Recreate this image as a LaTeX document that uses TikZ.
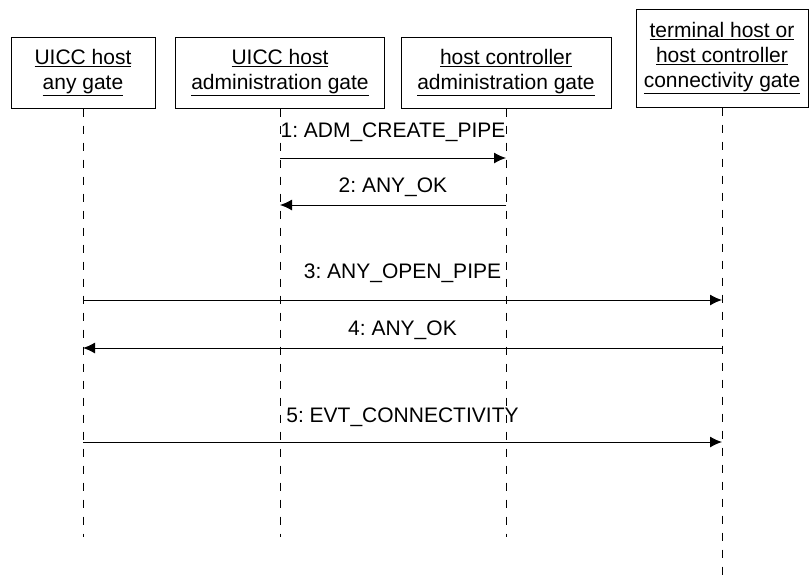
\documentclass[tikz,border=0pt]{standalone}
\usepackage{fontspec}
\setmainfont{Liberation Sans}
\usepackage{tikz}
\usetikzlibrary{positioning, arrows.meta}
\frenchspacing
\tikzstyle{gate} = [rectangle, draw=black, line width=1pt, align=center, inner sep=0pt, font=\fontsize{21}{25}\selectfont]
\tikzstyle{lifeline} = [line width=0.9pt, dash pattern=on 8pt off 9pt]
\tikzstyle{msg} = [line width=1pt, -{Latex[length=12pt,width=11pt]}]
\tikzstyle{msglabel} = [anchor=base, inner sep=0pt, font=\fontsize{21}{24}\selectfont]

\begin{document}
\begin{tikzpicture}[x=1pt, y=-1pt]
		\useasboundingbox (0,0) rectangle (809,584);
		
		% Gates
		\node (anygate) [gate, minimum width=144pt, minimum height=71pt] at (83,72.5) {\underline{UICC host}\\\underline{any gate}};
		\node (admgate) [gate, minimum width=209pt, minimum height=71pt] at (280,72.5) {\underline{UICC host}\\\underline{administration gate}};
		\node (hcadmgate) [gate, minimum width=210pt, minimum height=71pt] at (506,72.5) {\underline{host controller}\\\underline{administration gate}};
		\node (connectgate) [gate, minimum width=172pt, minimum height=98pt] at (722,58) {\underline{terminal host or}\\\underline{host controller}\\\underline{connectivity gate}};
		
		% Lifelines
		\coordinate (anyend) at (83,537);
		\coordinate (admend) at (280,537);
		\coordinate (hcadmend) at (506,537);
		\coordinate (connectend) at (722,580);
		\draw [lifeline] (anygate.south) -- (anyend);
		\draw [lifeline] (admgate.south) -- (admend);
		\draw [lifeline] (hcadmgate.south) -- (hcadmend);
		\draw [lifeline] (connectgate.south) -- (connectend);
		
		% Messages
		\coordinate (m1) at (0,158);
		\coordinate (m2) at (0,205);
		\coordinate (m3) at (0,300);
		\coordinate (m4) at (0,348);
		\coordinate (m5) at (0,442);
		\draw [msg] (admgate.south |- m1) -- node[msglabel, yshift=21pt] {1: ADM\_CREATE\_PIPE} (hcadmgate.south |- m1);
		\draw [msg] (hcadmgate.south |- m2) -- node[msglabel, yshift=13pt] {2: ANY\_OK} (admgate.south |- m2);
		\draw [msg] (anygate.south |- m3) -- node[msglabel, yshift=22pt] {3: ANY\_OPEN\_PIPE} (connectgate.south |- m3);
		\draw [msg] (connectgate.south |- m4) -- node[msglabel, yshift=13pt] {4: ANY\_OK} (anygate.south |- m4);
		\draw [msg] (anygate.south |- m5) -- node[msglabel, yshift=20pt] {5: EVT\_CONNECTIVITY} (connectgate.south |- m5);
		
	\end{tikzpicture}
\end{document}
